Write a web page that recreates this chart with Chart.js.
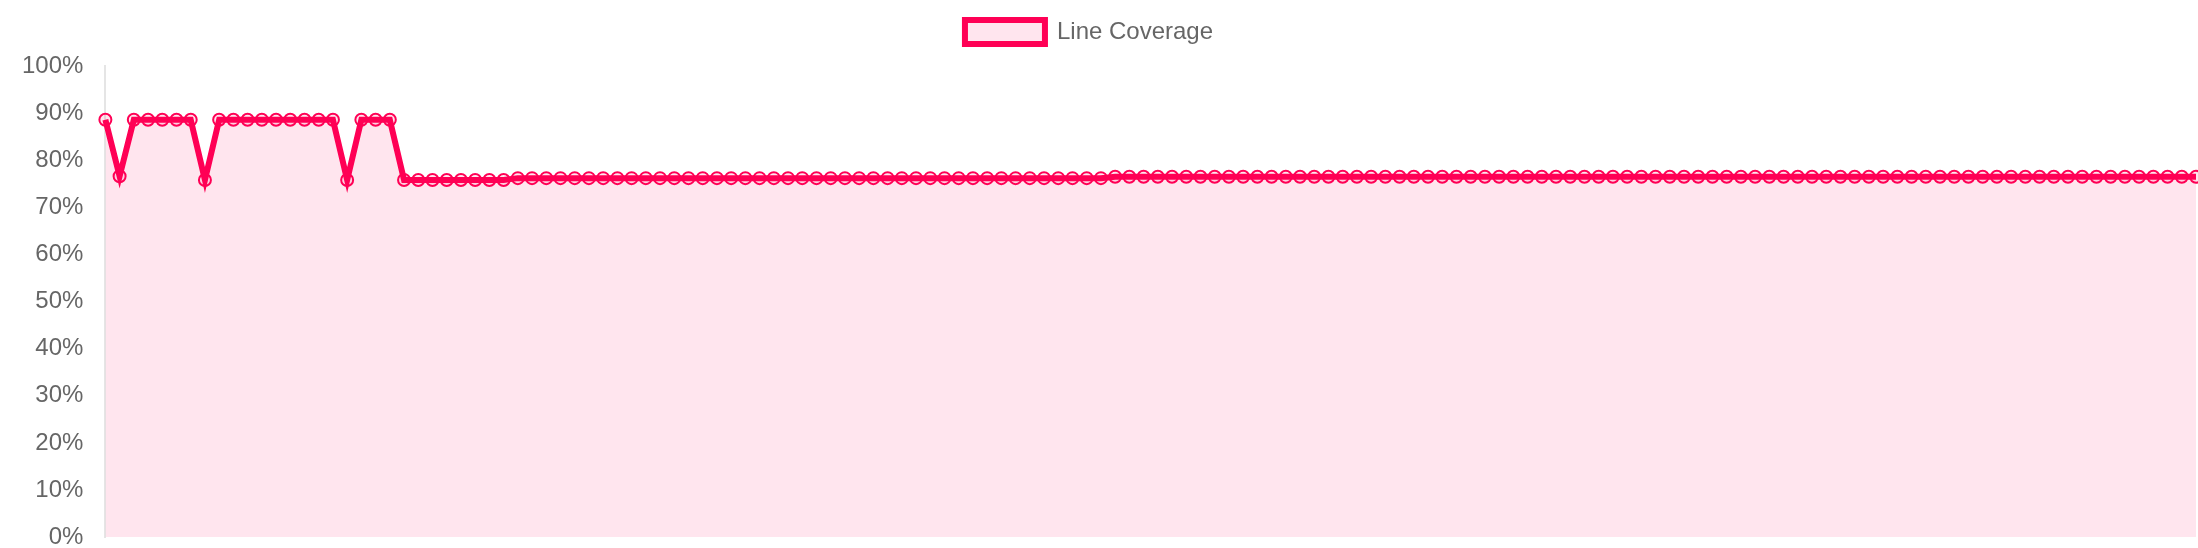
<!DOCTYPE html>
<html>
<head>
<meta charset="utf-8">
<script src="https://cdn.jsdelivr.net/npm/chart.js@4/dist/chart.umd.min.js"></script>
<style>
  html, body { margin: 0; padding: 0; background: #fff; overflow: hidden; }
  #wrap { position: relative; width: 2198px; height: 548px; }
</style>
</head>
<body>
<div id="wrap"><canvas id="coverageChart"></canvas></div>
<script>
// line coverage per build (percent)
const coverage = [
  88.6, 76.6, 88.6, 88.6, 88.6, 88.6, 88.6, 75.8, 88.6, 88.6, 88.6, 88.6, 88.6, 88.6, 88.6, 88.6, 88.6, 75.8, 88.6, 88.6,
  88.6, 75.8, 75.8, 75.8, 75.8, 75.8, 75.8, 75.8, 75.8, 76.2, 76.2, 76.2, 76.2, 76.2, 76.2, 76.2, 76.2, 76.2, 76.2, 76.2,
  76.2, 76.2, 76.2, 76.2, 76.2, 76.2, 76.2, 76.2, 76.2, 76.2, 76.2, 76.2, 76.2, 76.2, 76.2, 76.2, 76.2, 76.2, 76.2, 76.2,
  76.2, 76.2, 76.2, 76.2, 76.2, 76.2, 76.2, 76.2, 76.2, 76.2, 76.2, 76.5, 76.5, 76.5, 76.5, 76.5, 76.5, 76.5, 76.5, 76.5,
  76.5, 76.5, 76.5, 76.5, 76.5, 76.5, 76.5, 76.5, 76.5, 76.5, 76.5, 76.5, 76.5, 76.5, 76.5, 76.5, 76.5, 76.5, 76.5, 76.5,
  76.5, 76.5, 76.5, 76.5, 76.5, 76.5, 76.5, 76.5, 76.5, 76.5, 76.5, 76.5, 76.5, 76.5, 76.5, 76.5, 76.5, 76.5, 76.5, 76.5,
  76.5, 76.5, 76.5, 76.5, 76.5, 76.5, 76.5, 76.5, 76.5, 76.5, 76.5, 76.5, 76.5, 76.5, 76.5, 76.5, 76.5, 76.5, 76.5, 76.5,
  76.5, 76.5, 76.5, 76.5, 76.5, 76.5, 76.5, 76.5
];

// x labels are hidden in the picture, one per build
const builds = coverage.map((_, i) => String(i + 1));

const yMin = 0;
const yMax = 100;
const yStep = 10;

// the reference is a 2x (retina) capture, so every size is doubled
const S = 2;
const FONT = "'Helvetica Neue', Helvetica, Arial, sans-serif";

// a bit more room under the legend, and nudge it left a little
const legendTweak = {
  id: 'legendTweak',
  beforeInit(chart) {
    const fit = chart.legend.fit;
    chart.legend.fit = function () {
      fit.call(chart.legend);
      this.height += 6 * S;
    };
  },
  afterLayout(chart) {
    chart.legend.left -= 40;
  }
};

const ctx = document.getElementById('coverageChart').getContext('2d');

new Chart(ctx, {
  type: 'line',
  data: {
    labels: builds,
    datasets: [{
      label: 'Line Coverage',
      data: coverage,
      borderColor: '#ff0055',
      backgroundColor: 'rgba(255, 0, 85, 0.1)',
      borderWidth: 3 * S,
      tension: 0,
      fill: 'origin',
      pointRadius: 3 * S,
      pointBorderWidth: 1 * S,
      pointBackgroundColor: 'rgba(255, 0, 85, 0.1)',
      pointBorderColor: '#ff0055'
    }]
  },
  options: {
    responsive: true,
    maintainAspectRatio: false,
    devicePixelRatio: 1,
    animation: false,
    layout: { autoPadding: false, padding: { left: 22, right: 2, top: 0, bottom: 0 } },
    plugins: {
      legend: {
        labels: {
          color: '#666',
          font: { family: FONT, size: 12 * S },
          boxWidth: 40 * S,
          boxHeight: 12 * S,
          padding: 10 * S
        }
      },
      tooltip: { enabled: false }
    },
    scales: {
      x: {
        ticks: { display: false },
        grid: { display: false, drawTicks: false },
        border: { display: false }
      },
      y: {
        min: yMin,
        max: yMax,
        ticks: {
          stepSize: yStep,
          color: '#666',
          padding: 0,
          font: { family: FONT, size: 12 * S, lineHeight: 0.9 },
          callback: v => v + '%'
        },
        // invisible tick marks only keep the gap between labels and axis line
        grid: { display: true, drawOnChartArea: false, drawTicks: true, tickLength: 22, color: 'rgba(0, 0, 0, 0)' },
        border: { display: true, color: 'rgba(0, 0, 0, 0.1)', width: 2 }
      }
    }
  },
  plugins: [legendTweak]
});
</script>
</body>
</html>
